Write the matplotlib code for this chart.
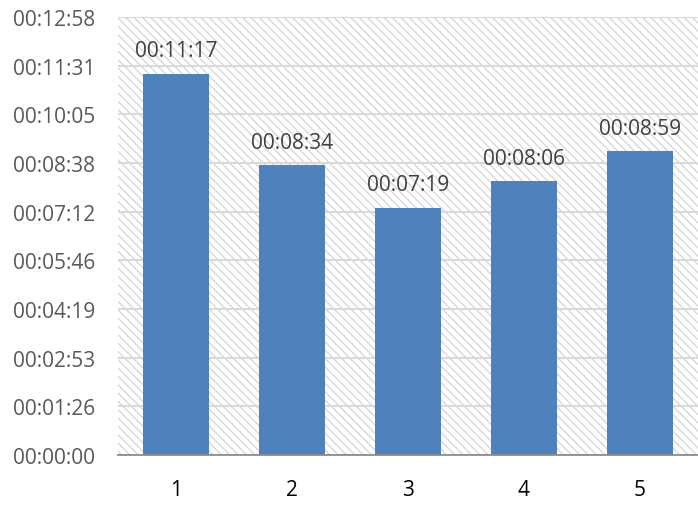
import matplotlib
matplotlib.use("Agg")
import matplotlib.pyplot as plt
from matplotlib.ticker import FixedLocator, FuncFormatter

# Durations per session
categories = ["1", "2", "3", "4", "5"]
durations = ["00:11:17", "00:08:34", "00:07:19", "00:08:06", "00:08:59"]


def to_days(hms):
    h, m, s = (int(p) for p in hms.split(":"))
    return (h * 3600 + m * 60 + s) / 86400.0


def fmt_days(v, _pos=None):
    total = int(round(v * 86400))
    h, rem = divmod(total, 3600)
    m, s = divmod(rem, 60)
    return f"{h:02d}:{m:02d}:{s:02d}"


values = [to_days(d) for d in durations]
y_ticks = [i * 0.001 for i in range(10)]

plt.rcParams["font.family"] = ["Open Sans", "DejaVu Sans"]
plt.rcParams["hatch.linewidth"] = 0.9

fig = plt.figure(figsize=(6.98, 5.06), dpi=100)
ax = fig.add_axes([118 / 698, 50 / 506, 580 / 698, 438 / 506])

# hatched plot-area background
ax.patch.set_facecolor("white")
ax.patch.set_hatch("\\\\\\\\")
ax.patch.set_edgecolor("#d4d4d4")
ax.patch.set_linewidth(0)

x = list(range(len(categories)))
bars = ax.bar(x, values, width=0.57, color="#4f81bd", zorder=3)

for xi, v, lab in zip(x, values, durations):
    ax.annotate(lab, (xi, v), xytext=(0, 12.7), textcoords="offset points",
                ha="center", va="baseline", fontsize=15, color="#404040",
                zorder=4)

ax.set_xlim(-0.5, len(categories) - 0.5)
ax.set_ylim(0, 0.009)
ax.yaxis.set_major_locator(FixedLocator(y_ticks))
ax.yaxis.set_major_formatter(FuncFormatter(fmt_days))
ax.set_xticks(x)
ax.set_xticklabels(categories)

ax.grid(axis="y", color="#d9d9d9", linewidth=1.5, zorder=1)
ax.set_axisbelow(True)

for side in ("top", "right", "left"):
    ax.spines[side].set_visible(False)
ax.spines["bottom"].set_color("#8c8c8c")
ax.spines["bottom"].set_linewidth(1.3)
ax.spines["bottom"].set_zorder(5)

ax.tick_params(axis="y", length=0, pad=16.5, labelsize=15, labelcolor="#595959")
ax.tick_params(axis="x", length=0, pad=17, labelsize=15, labelcolor="#000000")

fig.savefig("out.png", dpi=100)
